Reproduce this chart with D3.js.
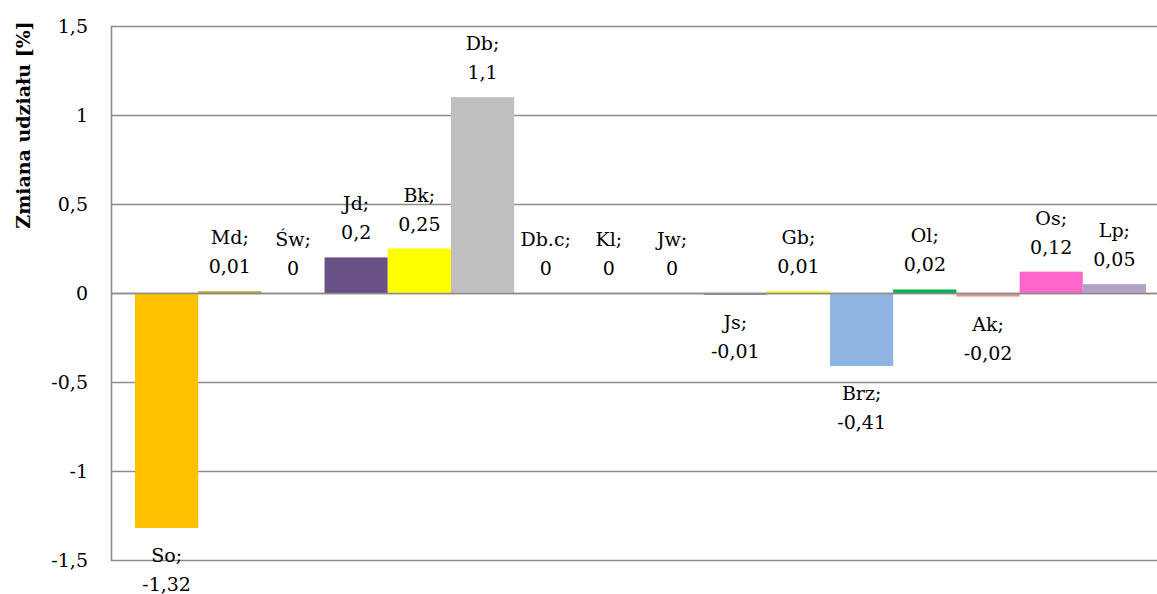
<!DOCTYPE html>
<html>
<head>
<meta charset="utf-8">
<script src="https://cdn.jsdelivr.net/npm/d3@7"></script>
<style>
  body { margin: 0; background: #fff; }
  svg { display: block; }
</style>
</head>
<body>
<div id="chart"></div>
<script>
// categories and values (percentage point change)
var categories = ["So", "Md", "Św", "Jd", "Bk", "Db", "Db.c", "Kl", "Jw", "Js", "Gb", "Brz", "Ol", "Ak", "Os", "Lp"];
var values = [-1.32, 0.01, 0, 0.2, 0.25, 1.1, 0, 0, 0, -0.01, 0.01, -0.41, 0.02, -0.02, 0.12, 0.05];
var colors = ["#FFC000", "#C9A227", "#FFC000", "#695086", "#FFFF00", "#BFBFBF", "#BFBFBF", "#BFBFBF", "#BFBFBF",
              "#7F7099", "#FFFF00", "#8EB4E3", "#00B050", "#D99694", "#FF66CC", "#B3A2C7"];
var yTicks = [-1.5, -1, -0.5, 0, 0.5, 1, 1.5];

const W = 1157, H = 594;
const padLeft = 111, padRight = 1170, padTop = 26, padBottom = 560;
const FONT = "'DejaVu Serif', 'Liberation Serif', serif";

const svg = d3.select("#chart").append("svg")
  .attr("width", W)
  .attr("height", H)
  .style("font-family", FONT);

const x = d3.scaleBand()
  .domain(categories)
  .range([padLeft, padRight])
  .paddingInner(0)
  .paddingOuter(0.38);

const y = d3.scaleLinear()
  .domain([-1.5, 1.5])
  .range([padBottom, padTop]);

// decimal comma like the original
function fmt(v) { return String(v).replace(".", ","); }

// gridlines
svg.append("g")
  .selectAll("line")
  .data(yTicks)
  .enter()
  .append("line")
  .attr("x1", padLeft)
  .attr("x2", padRight)
  .attr("y1", d => Math.round(y(d)) + 0.5)
  .attr("y2", d => Math.round(y(d)) + 0.5)
  .attr("stroke", "#8c8c8c")
  .attr("stroke-width", 1.6);

// y axis (labels only, no ticks)
const yAxis = d3.axisLeft(y)
  .tickValues(yTicks)
  .tickSize(0)
  .tickPadding(0)
  .tickFormat(fmt);

const gy = svg.append("g")
  .attr("transform", "translate(" + (padLeft - 23) + ",0)")
  .call(yAxis)
  .attr("font-family", null)
  .attr("font-size", null);
gy.select(".domain").remove();
gy.selectAll("text")
  .style("font-family", FONT)
  .style("font-size", "19px")
  .attr("fill", "#000");

// bars
svg.append("g")
  .selectAll("rect")
  .data(categories)
  .enter()
  .append("rect")
  .attr("x", d => x(d))
  .attr("width", x.bandwidth())
  .attr("y", (d, i) => y(Math.max(0, values[i])))
  .attr("height", (d, i) => Math.abs(y(values[i]) - y(0)))
  .attr("fill", (d, i) => colors[i]);

// zero line drawn over bars
svg.append("line")
  .attr("x1", padLeft).attr("x2", padRight)
  .attr("y1", Math.round(y(0)) + 0.5).attr("y2", Math.round(y(0)) + 0.5)
  .attr("stroke", "#8c8c8c")
  .attr("stroke-width", 1.6);

// left axis line
svg.append("line")
  .attr("x1", padLeft + 0.5).attr("x2", padLeft + 0.5)
  .attr("y1", padTop).attr("y2", padBottom + 1)
  .attr("stroke", "#8c8c8c")
  .attr("stroke-width", 1.6);

// data labels "Name;" / value
const labels = svg.append("g")
  .selectAll("text")
  .data(categories)
  .enter()
  .append("text")
  .attr("text-anchor", "middle")
  .style("font-family", FONT)
  .style("font-size", "19px")
  .attr("x", d => x(d) + x.bandwidth() / 2);

labels.append("tspan")
  .attr("x", d => x(d) + x.bandwidth() / 2)
  .attr("y", (d, i) => values[i] < 0 ? y(values[i]) + 34 : y(values[i]) - 47)
  .text(d => d + ";");

labels.append("tspan")
  .attr("x", d => x(d) + x.bandwidth() / 2)
  .attr("y", (d, i) => values[i] < 0 ? y(values[i]) + 63 : y(values[i]) - 18)
  .text((d, i) => fmt(values[i]));

// y title
svg.append("text")
  .attr("transform", "translate(30,125) rotate(-90)")
  .attr("text-anchor", "middle")
  .style("font-family", FONT)
  .style("font-size", "19px")
  .attr("font-weight", "bold")
  .text("Zmiana udziału [%]");
</script>
</body>
</html>
